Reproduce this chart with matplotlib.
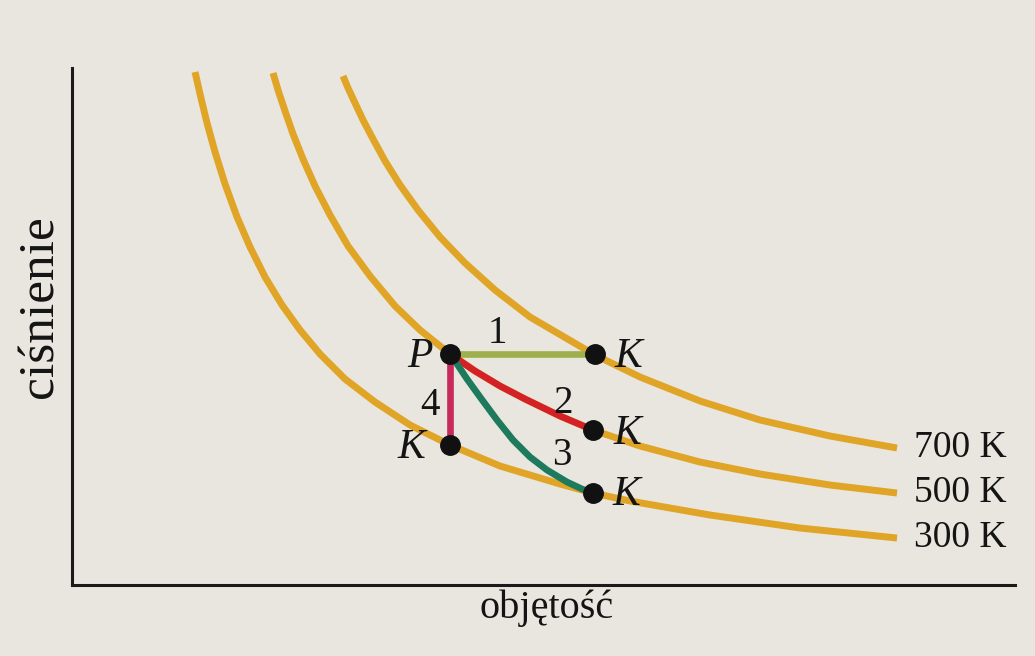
import matplotlib
matplotlib.use("Agg")
import matplotlib.pyplot as plt

# isotherms (objętość, ciśnienie), arbitrary units
temps = ["300 K", "500 K", "700 K"]
v_300 = [1.23, 1.28, 1.35, 1.43, 1.53, 1.65, 1.78, 1.93, 2.10, 2.28, 2.48, 2.73, 3.03,
         3.38, 3.78, 4.28, 4.88, 5.21, 5.58, 6.38, 7.28, 8.25]
p_300 = [5.13, 4.91, 4.62, 4.33, 4.01, 3.68, 3.38, 3.08, 2.80, 2.55, 2.31, 2.06, 1.83,
         1.60, 1.40, 1.19, 1.01, 0.92, 0.84, 0.70, 0.57, 0.47]
v_500 = [2.01, 2.06, 2.13, 2.21, 2.31, 2.43, 2.58, 2.76, 2.98, 3.23, 3.48, 3.78, 4.03,
         4.28, 4.53, 4.88, 5.21, 5.68, 6.28, 6.88, 7.58, 8.25]
p_500 = [5.12, 4.95, 4.74, 4.51, 4.26, 3.99, 3.70, 3.39, 3.09, 2.79, 2.55, 2.31, 2.14,
         1.99, 1.86, 1.69, 1.55, 1.39, 1.23, 1.11, 1.00, 0.92]
v_700 = [2.71, 2.76, 2.83, 2.91, 3.01, 3.13, 3.28, 3.46, 3.68, 3.93, 4.23, 4.58, 5.23,
         5.68, 6.28, 6.88, 7.58, 8.25]
p_700 = [5.09, 4.97, 4.82, 4.65, 4.46, 4.24, 4.00, 3.75, 3.48, 3.22, 2.95, 2.68, 2.30,
         2.08, 1.84, 1.65, 1.49, 1.37]

# start point P and the four end points K
p_start = (3.78, 2.31)
k_1 = (5.23, 2.31)
k_2 = (5.21, 1.55)
k_3 = (5.21, 0.92)
k_4 = (3.78, 1.40)

# process paths (2 = along the 500 K isotherm, 3 = steeper curve down to 300 K)
v_proc2 = [3.78, 4.03, 4.28, 4.53, 4.88, 5.21]
p_proc2 = [2.31, 2.14, 1.99, 1.86, 1.69, 1.55]
v_proc3 = [3.78, 3.83, 3.95, 4.08, 4.25, 4.41, 4.58, 4.75, 4.95, 5.10, 5.21]
p_proc3 = [2.31, 2.24, 2.06, 1.88, 1.65, 1.45, 1.28, 1.15, 1.03, 0.96, 0.92]

bg = "#e8e6df"
orange = "#e0a526"
serif = ["Liberation Serif", "DejaVu Serif"]
ink = "#141414"

fig = plt.figure(figsize=(10.35, 6.56), dpi=100, facecolor=bg)
ax = fig.add_axes([0.0696, 0.1082, 0.9111, 0.7881])
ax.set_facecolor(bg)

curves = [(v_300, p_300), (v_500, p_500), (v_700, p_700)]
for (v, p), label in zip(curves, temps):
    ax.plot(v, p, color=orange, lw=5, solid_capstyle="butt",
            solid_joinstyle="round", zorder=2)
    ax.annotate(label, (v[-1], p[-1]), xytext=(12, 0), textcoords="offset points",
                ha="left", va="center", fontsize=27, family=serif, color=ink)

# processes 1-4
line_kw = dict(lw=4.8, solid_joinstyle="round", solid_capstyle="butt", zorder=3)
ax.plot([p_start[0], k_1[0]], [p_start[1], k_1[1]], color="#9db04c", **line_kw)
ax.plot(v_proc2, p_proc2, color="#d42128", **line_kw)
ax.plot(v_proc3, p_proc3, color="#1e7a5c", **line_kw)
ax.plot([p_start[0], k_4[0]], [p_start[1], k_4[1]], color="#c92a5c", **line_kw)

pts = [p_start, k_1, k_2, k_3, k_4]
ax.plot([q[0] for q in pts], [q[1] for q in pts], "o", color="#111111",
        markersize=14, zorder=4)

lab_kw = dict(textcoords="offset points", ha="center", va="center",
              fontsize=30, family=serif, style="italic", color=ink)
ax.annotate("P", p_start, xytext=(-22, -2), **lab_kw)
ax.annotate("K", k_1, xytext=(24, -2), **lab_kw)
ax.annotate("K", k_2, xytext=(25, -3), **lab_kw)
ax.annotate("K", k_3, xytext=(24, -1), **lab_kw)
ax.annotate("K", k_4, xytext=(-28, -2), **lab_kw)

num_kw = dict(ha="center", va="center", fontsize=28, family=serif, color=ink)
ax.text(4.25, 2.52, "1", **num_kw)
ax.text(4.91, 1.82, "2", **num_kw)
ax.text(4.90, 1.30, "3", **num_kw)
ax.text(3.58, 1.80, "4", **num_kw)

ax.set_xlim(0, 9.43)
ax.set_ylim(0, 5.17)
ax.set_xticks([])
ax.set_yticks([])
for s in ["top", "right"]:
    ax.spines[s].set_visible(False)
for s in ["left", "bottom"]:
    ax.spines[s].set_linewidth(2.2)
    ax.spines[s].set_color("#1a1a1a")

fig.text(0.0386, 0.532, "ciśnienie", rotation=90, ha="center", va="center",
         fontsize=37, family=serif, color=ink)
fig.text(0.5285, 0.0732, "objętość", ha="center", va="center",
         fontsize=29, family=serif, color=ink)

fig.savefig("out.png", dpi=100, facecolor=bg)
